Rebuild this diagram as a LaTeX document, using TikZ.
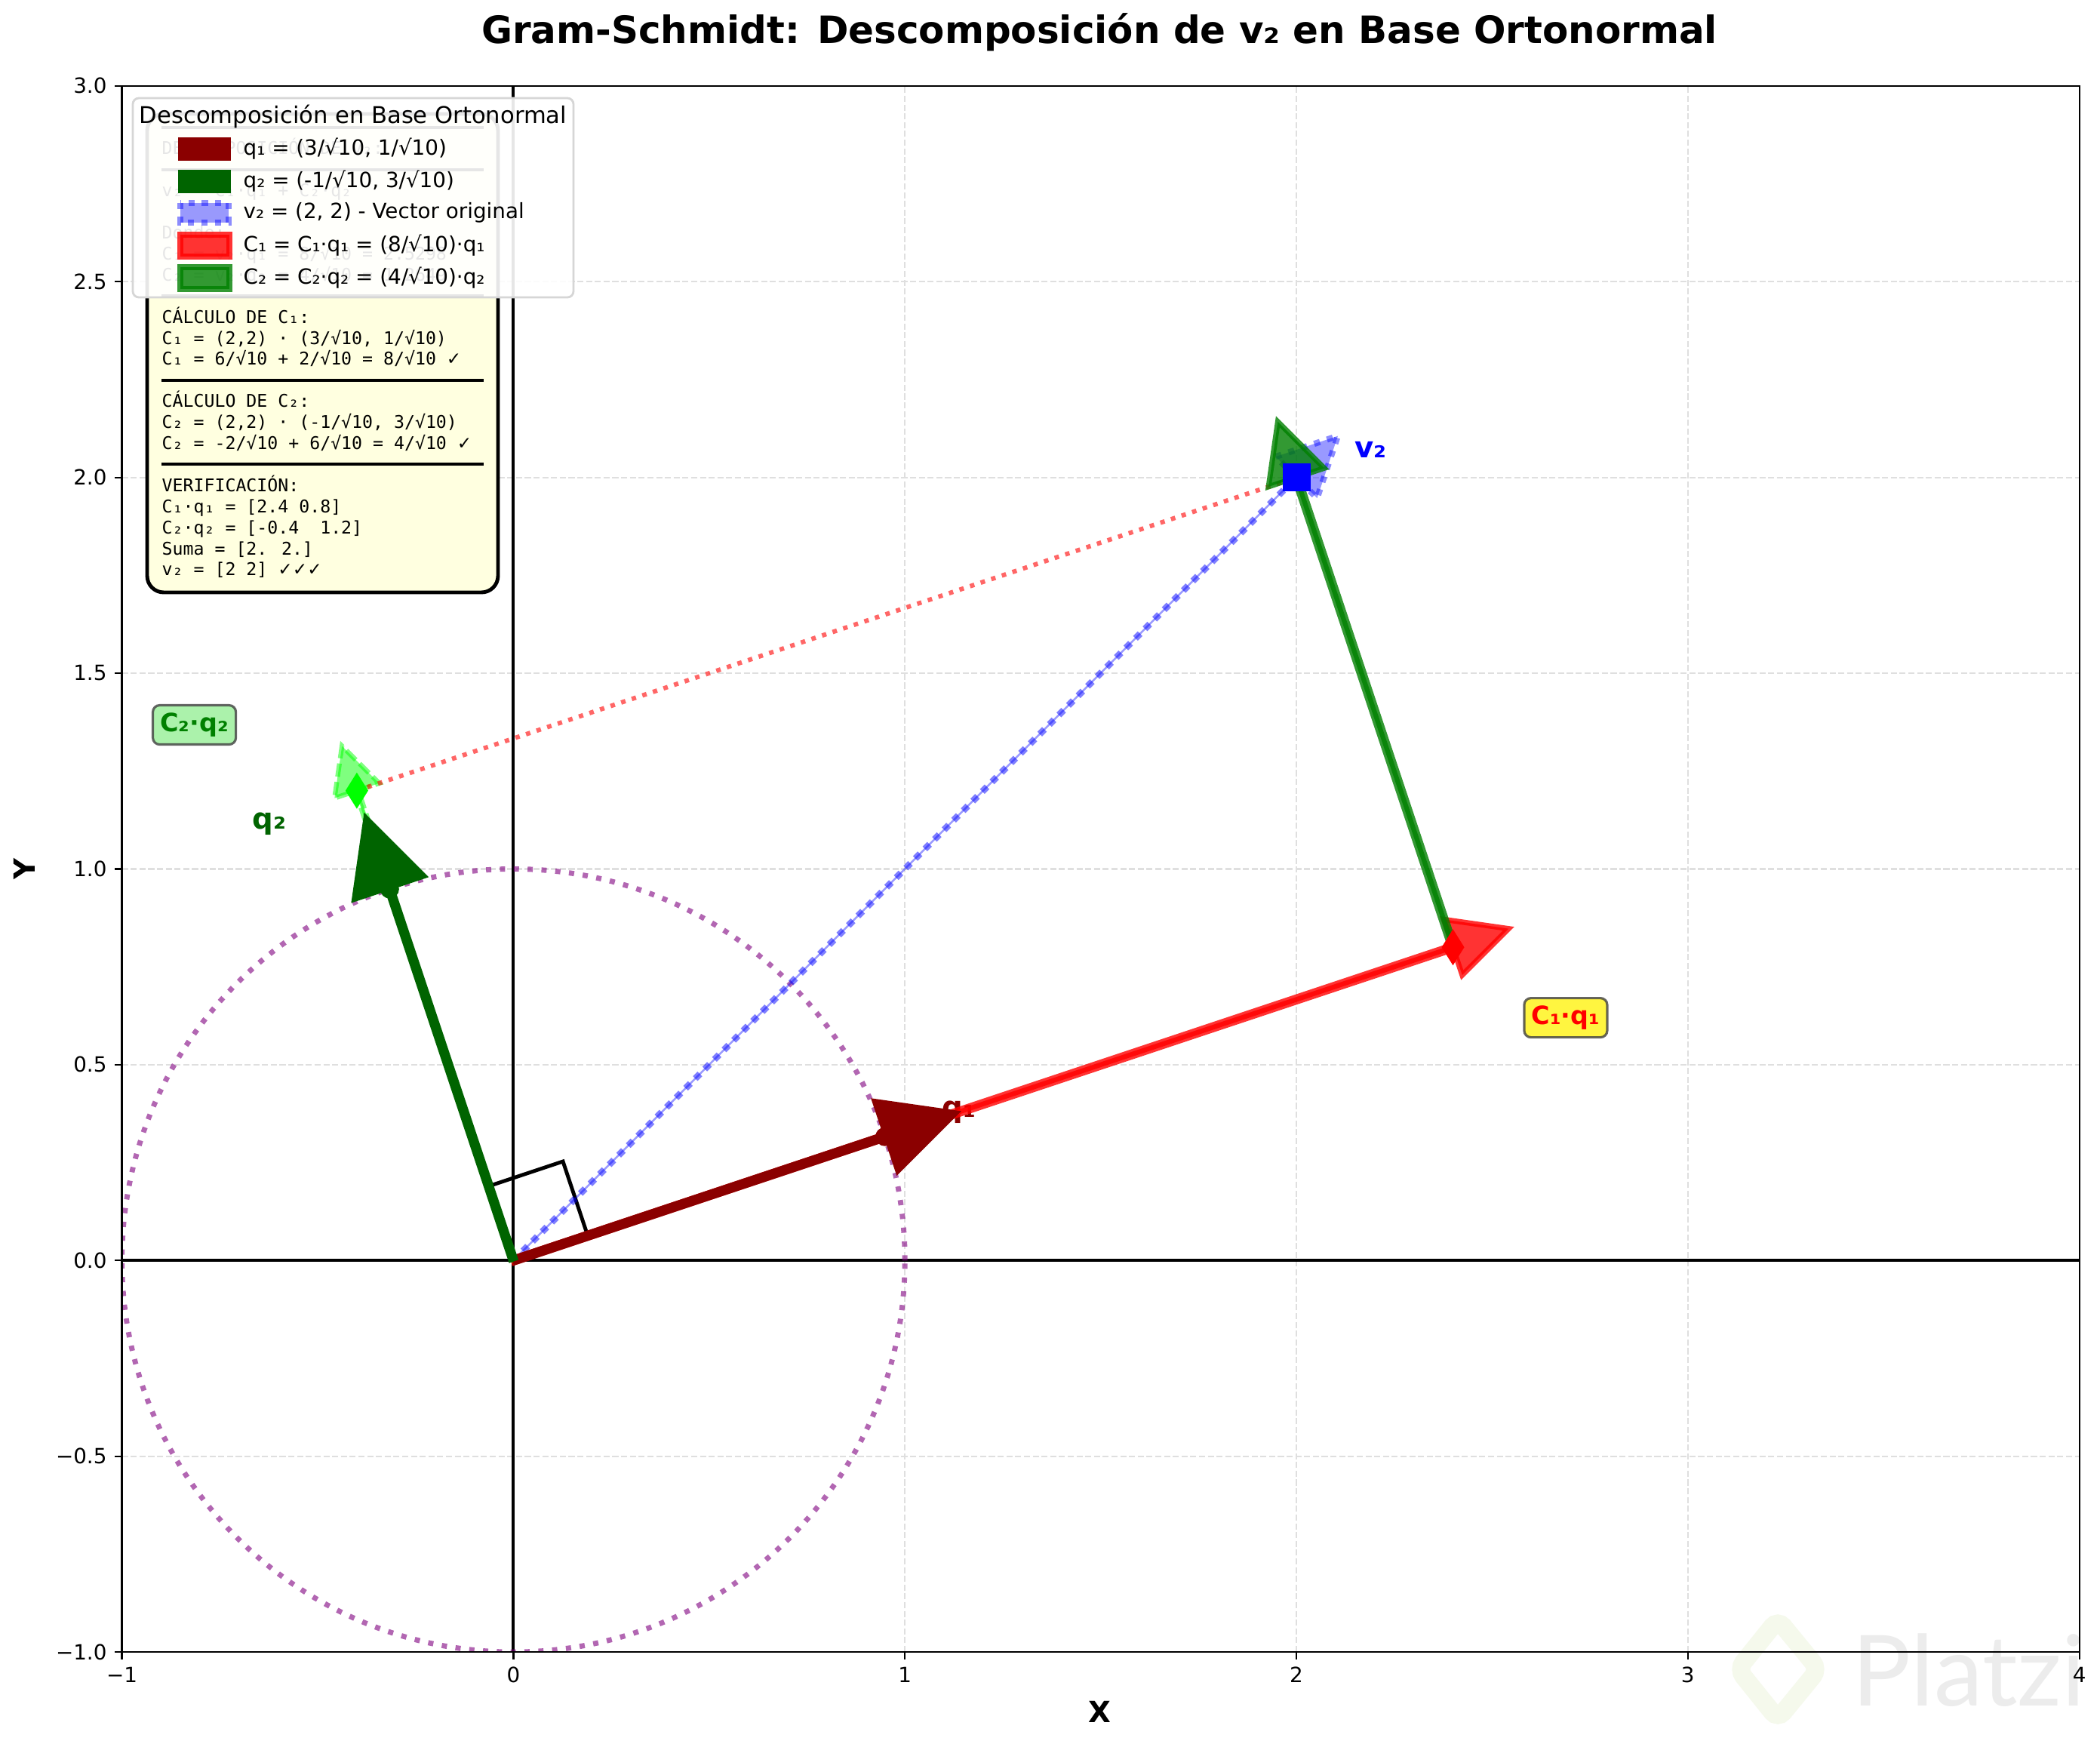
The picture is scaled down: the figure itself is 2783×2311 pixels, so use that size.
\documentclass[tikz,border=0pt]{standalone}
\usepackage{fontspec}
\setmainfont{DejaVu Sans}
\newfontfamily\monofont{DejaVu Sans Mono}
\newfontfamily\dvsans{DejaVu Sans}
\newfontfamily\wmfont{Lato}
\usetikzlibrary{calc}

\definecolor{mpdarkred}{RGB}{139,0,0}
\definecolor{mpdarkgreen}{RGB}{0,100,0}
\definecolor{mpgreen}{RGB}{0,128,0}
\definecolor{mplime}{RGB}{0,255,0}
\definecolor{mppurple}{RGB}{128,0,128}
\definecolor{mplightyellow}{RGB}{255,255,224}
\definecolor{mplightgreen}{RGB}{144,238,144}
\definecolor{wmgray}{RGB}{236,236,236}
\definecolor{wmgreen}{RGB}{245,249,236}

\newcommand\setfs[1]{\fontsize{#1}{#1}\selectfont}

% matplotlib-like arrow polygon: #1 style, (#2,#3) start, (#4,#5) vector, #6 body width, #7 head width, #8 head length
\newcommand\vecarrow[8]{%
  \pgfmathsetmacro\vaL{veclen(#4,#5)}%
  \pgfmathsetmacro\vaux{(#4)/\vaL}%
  \pgfmathsetmacro\vauy{(#5)/\vaL}%
  \pgfmathsetmacro\vabx{0-(\vauy)*(#6)/2}%
  \pgfmathsetmacro\vaby{(\vaux)*(#6)/2}%
  \pgfmathsetmacro\vahx{0-(\vauy)*(#7)/2}%
  \pgfmathsetmacro\vahy{(\vaux)*(#7)/2}%
  \pgfmathsetmacro\vaex{(#2)+(#4)}%
  \pgfmathsetmacro\vaey{(#3)+(#5)}%
  \pgfmathsetmacro\vatx{\vaex+(\vaux)*(#8)}%
  \pgfmathsetmacro\vaty{\vaey+(\vauy)*(#8)}%
  \path[#1] ({(#2)+(\vabx)},{(#3)+(\vaby)}) -- ({\vaex+(\vabx)},{\vaey+(\vaby)})
    -- ({\vaex+(\vahx)},{\vaey+(\vahy)}) -- (\vatx,\vaty)
    -- ({\vaex-(\vahx)},{\vaey-(\vahy)}) -- ({\vaex-(\vabx)},{\vaey-(\vaby)})
    -- ({(#2)-(\vabx)},{(#3)-(\vaby)}) -- cycle;%
}

\tikzset{
  gridline/.style={draw=gray!25, line width=0.63pt, dash pattern=on 2.3pt off 1pt},
  axisline/.style={draw=black, line width=1.1pt},
  unitcirc/.style={draw=mppurple, draw opacity=0.6, line width=1.97pt, dash pattern=on 1.97pt off 3.25pt},
  rightangle/.style={draw=black, line width=1.4pt},
  v2dots/.style={draw=blue, draw opacity=0.5, line width=2.5pt, dash pattern=on 2.5pt off 2.6pt},
  v2body/.style={draw=blue, draw opacity=0.4, line width=0.7pt},
  v2head/.style={fill=blue, fill opacity=0.4, draw=blue, draw opacity=0.45, line width=2.3pt, dash pattern=on 2.3pt off 2.8pt},
  c1arrow/.style={fill=red, fill opacity=0.8, draw=red, draw opacity=0.8, line width=2pt},
  c2arrow/.style={fill=mpgreen, fill opacity=0.8, draw=mpgreen, draw opacity=0.8, line width=2pt},
  limearrow/.style={fill=mplime, fill opacity=0.5, draw=mplime, draw opacity=0.5, line width=1.8pt, dash pattern=on 5pt off 2pt},
  q1arrow/.style={fill=mpdarkred, draw=mpdarkred, line width=0.8pt},
  q2arrow/.style={fill=mpdarkgreen, draw=mpdarkgreen, line width=0.8pt},
  reddotted/.style={draw=red, draw opacity=0.6, line width=1.7pt, dash pattern=on 1.7pt off 2.5pt},
  framebox/.style={draw=black, line width=0.63pt},
  tickmark/.style={draw=black, line width=0.63pt},
  ticklbl/.style={inner sep=0pt, font=\setfs{7.9}},
  veclbl/.style={inner sep=0pt, font=\bfseries\setfs{11}},
  lblbox/.style={draw=black!75, draw opacity=0.8, line width=0.9pt, rounded corners=0.09cm,
     fill opacity=0.75, text opacity=1, minimum width=1.1cm, minimum height=0.52cm, inner sep=0pt,
     font=\bfseries\setfs{9.5}},
  tbtext/.style={anchor=base west, inner sep=0pt, font=\monofont\setfs{6.6}},
  tbrule/.style={draw=black, line width=1.1pt},
  legtext/.style={anchor=west, inner sep=0pt, font=\setfs{7.9}},
}

\begin{document}
\begin{tikzpicture}[x=0.01cm,y=-0.01cm]
\useasboundingbox (0,0) rectangle (2783,2311);
\fill[white] (0,0) rectangle (2783,2311);

% watermark
\draw[wmgreen, line width=0.24cm, rounded corners=0.12cm] (2356,2146) -- (2410,2212) -- (2356,2278) -- (2303,2212) -- cycle;
\node[anchor=base west, inner sep=0pt, text=wmgray, font=\wmfont\setfs{37}] (wm) at (2454,2260) {Platzi};

\begin{scope}[shift={(680.4,1670.25)}, x=5.185cm, y=5.185cm]
  \coordinate (O) at (0,0);
  \coordinate (Q1) at (0.948683,0.316228);
  \coordinate (Q2) at (-0.316228,0.948683);
  \coordinate (C1Q1) at (2.4,0.8);
  \coordinate (C2Q2) at (-0.4,1.2);
  \coordinate (V2) at (2,2);

  \begin{scope}
    \clip (-1,-1) rectangle (4,3);
    \foreach \gx in {-1,0,1,2,3,4} \draw[gridline] (\gx,-1) -- (\gx,3);
    \foreach \gy in {-1,-0.5,0,0.5,1,1.5,2,2.5,3} \draw[gridline] (-1,\gy) -- (4,\gy);
    \draw[axisline] (-1,0) -- (4,0);
    \draw[axisline] (0,-1) -- (0,3);
    \draw[unitcirc] (O) circle (1);
  \end{scope}

  % q1 label (under arrows)
  \node[veclbl, text=mpdarkred] (lq1) at (1.138,0.379) {q₁};

  % right angle marker
  \draw[rightangle] (0.189737,0.063246) -- (0.126491,0.252982) -- (-0.063246,0.189737);

  % v2 vector: dotted body and head
  \draw[v2body] (O) -- (V2);
  \draw[v2dots] (O) -- (V2);
  \path[v2head] (1.947,2.053) -- (2.106,2.106) -- (2.053,1.947) -- cycle;

  % other vectors
  \vecarrow{c1arrow}{0}{0}{2.4}{0.8}{0.012}{0.15}{0.15}
  \vecarrow{limearrow}{0}{0}{-0.4}{1.2}{0.008}{0.12}{0.12}
  \vecarrow{q1arrow}{0}{0}{0.948683}{0.316228}{0.02}{0.2}{0.2}
  \vecarrow{q2arrow}{0}{0}{-0.316228}{0.948683}{0.02}{0.2}{0.2}
  \fill[mpdarkred] (Q1) circle (0.125cm);
  \fill[mpdarkgreen] (Q2) circle (0.125cm);

  \draw[reddotted] (C2Q2) -- (V2);
  \vecarrow{c2arrow}{2.4}{0.8}{-0.4}{1.2}{0.012}{0.15}{0.15}

  % markers
  \fill[red] (C1Q1) ++(0,0.24cm) -- ++(0.15cm,-0.24cm) -- ++(-0.15cm,-0.24cm) -- ++(-0.15cm,0.24cm) -- cycle;
  \fill[mplime] (C2Q2) ++(0,0.24cm) -- ++(0.15cm,-0.24cm) -- ++(-0.15cm,-0.24cm) -- ++(-0.15cm,0.24cm) -- cycle;
  \node[fill=blue, minimum size=0.37cm, inner sep=0pt] (sqv2) at (V2) {};

  % labels
  \node[veclbl, text=blue] (lv2) at (2.19,2.07) {v₂};
  \node[veclbl, text=mpdarkgreen] (lq2) at (-0.624,1.115) {q₂};
  \node[lblbox, fill=yellow, text=red] (lc1) at (2.688,0.620) {C₁·q₁};
  \node[lblbox, fill=mplightgreen, text=mpgreen] (lc2) at (-0.815,1.368) {C₂·q₂};

  % frame and ticks
  \draw[framebox] (-1,-1) rectangle (4,3);
  \foreach \v/\t in {-1/−1,0/0,1/1,2/2,3/3,4/4}{
    \draw[tickmark] (\v,-1) -- ++(0,-0.097cm);
    \node[ticklbl, anchor=north] (xt\v) at ([yshift=-0.195cm]\v,-1) {\t};
  }
  \foreach \v/\t in {-1/−1.0,-0.5/−0.5,0/0.0,0.5/0.5,1/1.0,1.5/1.5,2/2.0,2.5/2.5,3/3.0}{
    \draw[tickmark] (-1,\v) -- ++(-0.097cm,0);
    \node[ticklbl, anchor=east] (yt\v) at ([xshift=-0.194cm]-1,\v) {\t};
  }
\end{scope}

% text box
\draw[draw=black, line width=1.4pt, fill=mplightyellow, rounded corners=0.22cm] (195,151) rectangle (660,785);
\foreach \k in {0,2,8,12,16} \draw[tbrule] (214,{169+27.9*\k}) -- (641,{169+27.9*\k});
\node[tbtext] (tb1) at (214,{177+27.9*1}) {DESCOMPOSICIÓN DE v₂:};
\node[tbtext] (tb3) at (214,{177+27.9*3}) {v₂ = C₁·q₁ + C₂·q₂};
\node[tbtext] (tb5) at (214,{177+27.9*5}) {Donde:};
\node[tbtext] (tb6) at (214,{177+27.9*6}) {C₁ = v₂·q₁ = 8/√10 = 2.5298};
\node[tbtext] (tb7) at (214,{177+27.9*7}) {C₂ = v₂·q₂ = 4/√10 = 1.2649};
\node[tbtext] (tb9) at (214,{177+27.9*9}) {CÁLCULO DE C₁:};
\node[tbtext] (tb10) at (214,{177+27.9*10}) {C₁ = (2,2) · (3/√10, 1/√10)};
\node[tbtext] (tb11) at (214,{177+27.9*11}) {C₁ = 6/√10 + 2/√10 = 8/√10 {\dvsans ✓}};
\node[tbtext] (tb13) at (214,{177+27.9*13}) {CÁLCULO DE C₂:};
\node[tbtext] (tb14) at (214,{177+27.9*14}) {C₂ = (2,2) · (-1/√10, 3/√10)};
\node[tbtext] (tb15) at (214,{177+27.9*15}) {C₂ = -2/√10 + 6/√10 = 4/√10 {\dvsans ✓}};
\node[tbtext] (tb17) at (214,{177+27.9*17}) {VERIFICACIÓN:};
\node[tbtext] (tb18) at (214,{177+27.9*18}) {C₁·q₁ = [2.4 0.8]};
\node[tbtext] (tb19) at (214,{177+27.9*19}) {C₂·q₂ = [-0.4\ \ 1.2]};
\node[tbtext] (tb20) at (214,{177+27.9*20}) {Suma = [2. 2.]};
\node[tbtext] (tb21) at (214,{177+27.9*21}) {v₂ = [2 2] {\dvsans ✓✓✓}};

% legend
\draw[fill=white, fill opacity=0.9, draw=black!16, line width=0.8pt, rounded corners=0.08cm] (176,130) rectangle (760,394);
\node[inner sep=0pt, font=\setfs{8.7}] (legtitle) at (468,154) {Descomposición en Base Ortonormal};
\fill[mpdarkred] (236,182) rectangle (306,213);
\fill[mpdarkgreen] (236,225) rectangle (306,256);
\path[v2head] (239,269) rectangle (303,295);
\path[c1arrow] (239,311) rectangle (304,340);
\path[c2arrow] (239,354) rectangle (304,383);
\node[legtext] (leg1) at (322,197.5) {q₁ = (3/√10, 1/√10)};
\node[legtext] (leg2) at (322,240.5) {q₂ = (-1/√10, 3/√10)};
\node[legtext] (leg3) at (322,282) {v₂ = (2, 2) - Vector original};
\node[legtext] (leg4) at (322,325.5) {C₁ = C₁·q₁ = (8/√10)·q₁};
\node[legtext] (leg5) at (322,368.5) {C₂ = C₂·q₂ = (4/√10)·q₂};

% title and axis labels
\node[inner sep=0pt, font=\bfseries\setfs{14.2}] (title) at (1457,43) {Gram-Schmidt: Descomposición de v₂ en Base Ortonormal};
\node[inner sep=0pt, font=\bfseries\setfs{11}] (xlab) at (1457,2268) {X};
\node[inner sep=0pt, font=\bfseries\setfs{11}, rotate=90] (ylab) at (32,1151) {Y};
\end{tikzpicture}
\end{document}
